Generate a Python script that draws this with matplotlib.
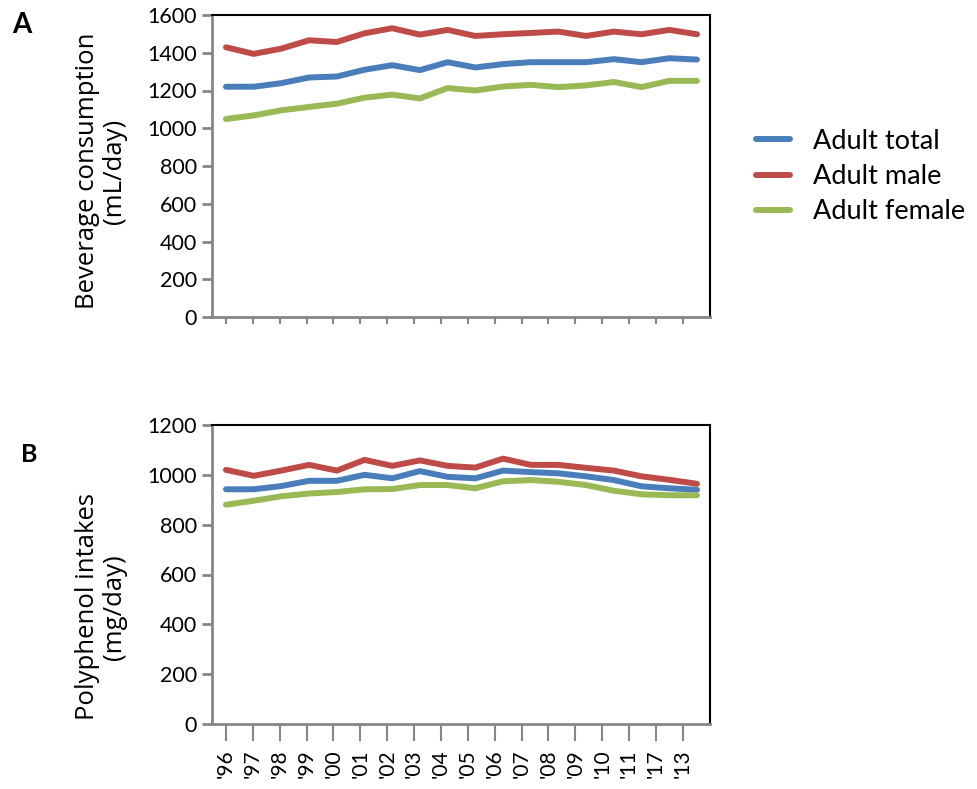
import matplotlib
matplotlib.use("Agg")
import matplotlib.pyplot as plt
import numpy as np

plt.rcParams['font.family'] = ['Lato', 'DejaVu Sans']

years = ["'96", "'97", "'98", "'99", "'00", "'01", "'02", "'03", "'04", "'05",
         "'06", "'07", "'08", "'09", "'10", "'11", "'17", "'13"]

bev_total = [1220, 1220, 1239, 1269, 1274, 1310, 1334, 1308, 1350, 1322,
             1340, 1350, 1350, 1350, 1366, 1350, 1371, 1364]
bev_male = [1429, 1394, 1422, 1466, 1457, 1503, 1530, 1496, 1521, 1489,
            1498, 1505, 1512, 1489, 1512, 1498, 1521, 1498]
bev_female = [1049, 1068, 1095, 1113, 1130, 1162, 1178, 1158, 1213, 1200,
              1221, 1230, 1218, 1227, 1245, 1218, 1251, 1251]

poly_total = [942, 942, 955, 976, 976, 1000, 986, 1015, 992, 986,
              1017, 1011, 1006, 994, 979, 954, 946, 940]
poly_male = [1020, 996, 1017, 1040, 1017, 1060, 1036, 1058, 1036, 1029,
             1065, 1040, 1040, 1028, 1017, 994, 980, 964]
poly_female = [880, 896, 914, 925, 931, 942, 943, 959, 959, 946,
               974, 979, 972, 959, 936, 922, 918, 918]

series_names = ["Adult total", "Adult male", "Adult female"]
colors = ["#4A7EBB", "#BE4B48", "#98B954"]

fig = plt.figure(figsize=(9.77, 7.89), dpi=100)
axA = fig.add_axes([212/977, 1-317/789, 498/977, 302/789])
axB = fig.add_axes([212/977, 1-724/789, 498/977, 299/789])

x = np.arange(len(years))
tickpos = x * 0.97

def style(ax, ymax, ticklen):
    ax.set_xlim(-0.505, 17.47)
    ax.set_ylim(0, ymax)
    ax.set_yticks(np.arange(0, ymax + 1, 200))
    for s in ['top', 'right']:
        ax.spines[s].set_color('black')
        ax.spines[s].set_linewidth(1.5)
    for s in ['left', 'bottom']:
        ax.spines[s].set_color('#868686')
        ax.spines[s].set_linewidth(2)
    ax.tick_params(axis='y', direction='out', length=7, width=2, color='#868686',
                   labelsize=15.5, pad=4)
    ax.tick_params(axis='x', direction='out', length=ticklen, width=1.5, color='#868686',
                   labelsize=15, pad=6)
    ax.set_xticks(tickpos)

for ax, data, ymax in [(axA, (bev_total, bev_male, bev_female), 1600),
                       (axB, (poly_total, poly_male, poly_female), 1200)]:
    for name, vals, c in zip(series_names, data, colors):
        ax.plot(x, vals, color=c, lw=4.3, label=name, solid_capstyle='round',
                solid_joinstyle='round')

style(axA, 1600, 5)
style(axB, 1200, 12)
axA.set_xticklabels([])
axB.set_xticklabels(years, rotation=90)

fig.text(101/977, 1-171/789, "Beverage consumption\n(mL/day)", rotation=90,
         ha='center', va='center', multialignment='center', fontsize=18.5,
         family=['Open Sans', 'DejaVu Sans'], linespacing=1.15)
fig.text(101/977, 1-607/789, "Polyphenol intakes\n(mg/day)", rotation=90,
         ha='center', va='center', multialignment='center', fontsize=18.5,
         family=['Open Sans', 'DejaVu Sans'], linespacing=1.15)

fig.text(12/977, 1-33/789, "A", fontsize=20, fontweight='bold')
fig.text(21/977, 1-462/789, "B", fontsize=18, fontweight='bold')

leg = axA.legend(loc='upper left', bbox_to_anchor=(745/977, 1-118/789),
                 bbox_transform=fig.transFigure, frameon=False, fontsize=19.5,
                 handlelength=1.25, handletextpad=0.85, labelspacing=0.38,
                 borderaxespad=0)

fig.savefig("out.png", dpi=100)
